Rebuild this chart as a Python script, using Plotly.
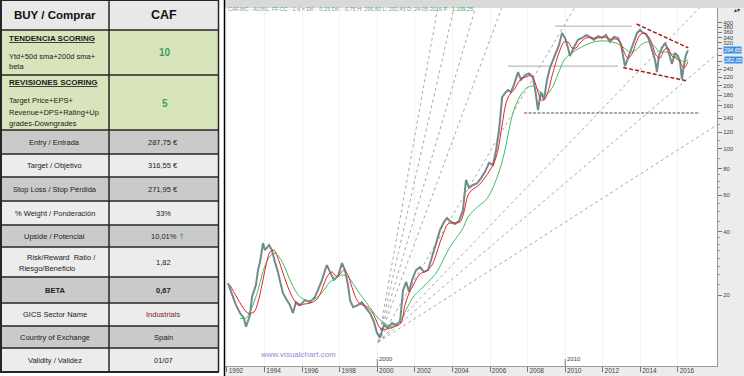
import math
import plotly.graph_objects as go

W, H = 744, 376

# ---------------- chart data ----------------
price_years = [1992.05, 1992.27, 1992.48, 1992.69, 1992.90, 1993.01, 1993.22, 1993.33, 1993.54, 1993.65,
               1993.76, 1993.92, 1994.02, 1994.24, 1994.39, 1994.55, 1994.71, 1994.87, 1994.98, 1995.19,
               1995.35, 1995.51, 1995.67, 1995.89, 1996.15, 1996.42, 1996.68, 1996.84, 1997.06, 1997.22,
               1997.32, 1997.48, 1997.69, 1997.91, 1998.12, 1998.28, 1998.44, 1998.55, 1998.71, 1998.97,
               1999.18, 1999.40, 1999.61, 1999.82, 1999.98, 2000.14, 2000.36, 2000.57, 2000.78, 2000.99,
               2001.21, 2001.37, 2001.53, 2001.69, 2001.85, 2002.06, 2002.27, 2002.48, 2002.70, 2002.86,
               2003.02, 2003.18, 2003.34, 2003.55, 2003.71, 2003.92, 2004.13, 2004.35, 2004.56, 2004.72,
               2004.88, 2005.09, 2005.30, 2005.52, 2005.73, 2005.94, 2006.16, 2006.32, 2006.48, 2006.64,
               2006.80, 2006.96, 2007.11, 2007.27, 2007.49, 2007.65, 2007.86, 2008.07, 2008.28, 2008.44,
               2008.55, 2008.71, 2008.87, 2009.03, 2009.19, 2009.35, 2009.51, 2009.67, 2009.83, 2009.99,
               2010.15, 2010.25, 2010.47, 2010.68, 2010.89, 2011.11, 2011.32, 2011.53, 2011.74, 2011.96,
               2012.17, 2012.38, 2012.60, 2012.81, 2012.97, 2013.07, 2013.18, 2013.34, 2013.50, 2013.66,
               2013.82, 2013.98, 2014.14, 2014.30, 2014.46, 2014.62, 2014.78, 2014.88, 2014.99, 2015.15,
               2015.31, 2015.47, 2015.58, 2015.68, 2015.84, 2016.00, 2016.11, 2016.21, 2016.32, 2016.42,
               2016.53]
price_values = [22.8, 20.0, 17.9, 16.4, 15.5, 14.1, 16.0, 19.6, 22.3, 26.3,
                28.8, 35.4, 32.8, 34.7, 32.8, 28.8, 25.8, 22.3, 20.4, 18.9,
                17.9, 16.4, 18.5, 17.9, 18.9, 18.5, 19.6, 21.1, 23.6, 26.3,
                27.8, 25.8, 23.6, 24.6, 28.4, 26.3, 22.3, 18.9, 17.5, 17.9,
                18.5, 17.3, 16.4, 14.9, 13.2, 12.5, 14.4, 13.9, 14.7, 14.4,
                14.9, 21.1, 23.1, 20.7, 23.6, 26.3, 27.2, 25.8, 26.3, 29.4,
                32.8, 36.6, 40.9, 44.7, 46.7, 44.7, 43.7, 45.2, 51.0, 70.9,
                65.0, 67.1, 68.3, 72.4, 77.5, 85.5, 83.6, 98.6, 123, 176,
                184.6, 190.7, 186.6, 201.7, 232, 213, 224, 229, 221, 181,
                153, 186.6, 171, 213, 244, 265, 290, 313, 357, 338,
                303, 277, 306, 331, 338, 349, 342, 331, 345, 338,
                349, 323.5, 342, 338, 313, 280, 248, 271, 296, 331,
                357, 369, 357, 353, 331, 296, 265, 232, 280, 303,
                320, 296, 271, 254, 287, 277, 260, 215, 251, 280,
                294.65]

red_years = [1992.16, 1992.48, 1992.80, 1993.12, 1993.44, 1993.65, 1993.86, 1994.08, 1994.29, 1994.50,
             1994.71, 1994.93, 1995.14, 1995.35, 1995.57, 1995.78, 1996.10, 1996.42, 1996.74, 1996.95,
             1997.16, 1997.38, 1997.59, 1997.80, 1998.01, 1998.23, 1998.44, 1998.65, 1998.87, 1999.08,
             1999.40, 1999.72, 1999.93, 2000.14, 2000.36, 2000.68, 2000.99, 2001.26, 2001.47, 2001.69,
             2001.95, 2002.27, 2002.59, 2002.91, 2003.12, 2003.34, 2003.55, 2003.76, 2004.08, 2004.40,
             2004.61, 2004.83, 2005.04, 2005.36, 2005.68, 2006.00, 2006.21, 2006.42, 2006.64, 2006.85,
             2007.06, 2007.27, 2007.49, 2007.70, 2007.91, 2008.13, 2008.34, 2008.55, 2008.71, 2008.87,
             2009.08, 2009.30, 2009.51, 2009.72, 2009.94, 2010.15, 2010.36, 2010.57, 2010.79, 2011.11,
             2011.43, 2011.74, 2012.06, 2012.38, 2012.70, 2012.92, 2013.13, 2013.34, 2013.55, 2013.77,
             2013.98, 2014.19, 2014.41, 2014.62, 2014.83, 2015.04, 2015.26, 2015.47, 2015.68, 2015.90,
             2016.11, 2016.32, 2016.53]
red_values = [22.3, 19.8, 17.7, 16.4, 16.6, 18.5, 22.3, 27.8, 32.1, 32.8,
              30.0, 26.3, 23.1, 20.7, 18.9, 17.9, 18.1, 18.3, 18.9, 20.2,
              22.6, 24.9, 25.8, 24.6, 25.2, 26.3, 24.9, 21.8, 19.3, 18.1,
              17.7, 16.6, 15.2, 13.9, 13.7, 13.9, 14.2, 14.7, 17.9, 20.4,
              22.6, 25.2, 26.0, 27.8, 31.0, 35.8, 40.0, 43.7, 44.2, 44.7,
              49.8, 60.1, 63.5, 66.4, 71.7, 79.1, 85.5, 98.6, 129.9, 165,
              182.6, 190.7, 206, 218, 220, 223, 213, 186.6, 171, 171,
              186.6, 223, 259.7, 296, 323.5, 323.5, 302.9, 302.9, 320, 338,
              338, 338, 342, 334, 334, 323.5, 290, 271, 283, 320,
              349, 357, 345, 316.5, 280, 271, 296, 303, 277, 271,
              260, 243, 260]

green_years = [1992.69, 1993.01, 1993.22, 1993.44, 1993.65, 1993.86, 1994.08, 1994.29, 1994.55, 1994.82,
               1995.09, 1995.35, 1995.62, 1995.89, 1996.20, 1996.52, 1996.84, 1997.16, 1997.48, 1997.80,
               1998.12, 1998.44, 1998.76, 1999.08, 1999.40, 1999.72, 2000.04, 2000.36, 2000.68, 2000.99,
               2001.31, 2001.63, 2001.95, 2002.27, 2002.59, 2002.91, 2003.23, 2003.55, 2003.87, 2004.19,
               2004.51, 2004.83, 2005.15, 2005.46, 2005.78, 2006.10, 2006.42, 2006.64, 2006.85, 2007.06,
               2007.27, 2007.49, 2007.70, 2008.02, 2008.34, 2008.66, 2008.98, 2009.30, 2009.62, 2009.94,
               2010.25, 2010.57, 2010.89, 2011.21, 2011.53, 2011.85, 2012.17, 2012.49, 2012.81, 2013.13,
               2013.45, 2013.77, 2014.09, 2014.41, 2014.73, 2015.04, 2015.36, 2015.68, 2016.00, 2016.32,
               2016.53]
green_values = [15.5, 15.5, 16.6, 18.5, 21.1, 24.9, 28.4, 30.7, 31.7, 30.0,
                26.9, 23.6, 21.1, 19.6, 18.9, 18.9, 19.6, 21.1, 23.1, 24.1,
                24.9, 24.4, 22.3, 20.2, 18.5, 16.9, 15.5, 14.7, 14.2, 14.4,
                15.5, 17.7, 19.8, 21.1, 22.6, 24.1, 26.3, 30.0, 33.9, 37.4,
                40.9, 47.2, 50.9, 53.8, 56.9, 63.5, 74.9, 86.4, 104, 129.9,
                153, 171, 184.6, 197, 199, 186.6, 181, 195, 227.5, 265,
                283, 296, 307, 316.5, 323.5, 327, 327, 323.5, 316.5, 303,
                290, 296, 316.5, 323.5, 310, 290, 290, 283, 271, 260,
                265]

fan_origin_year = 2000.04
fan_origin_price = 11.9
fan_end_years = [2003.21, 2004.08, 2005.22, 2006.62, 2010.49, 2017.13, 2018.08, 2018.08]
fan_end_prices = [470, 470, 470, 470, 470, 470, 284, 130]

level_prices = [385, 248]
level_start_years = [2009.46, 2006.96]
level_end_years = [2013.55, 2012.81]

support_price = 148
support_years = [2007.81, 2017.17]

channel_upper_years = [2013.80, 2016.55]
channel_upper_prices = [394, 303]
channel_lower_years = [2013.09, 2016.47]
channel_lower_prices = [244, 211]

last_price = 294.65
second_price = 282.05

x_ticks = list(range(1992, 2017, 2))
y_ticks = [20, 40, 60, 80, 100, 120, 140, 160, 180, 200, 220, 240, 260, 280, 300, 320, 340, 360, 380, 400]
y_hidden = [260, 280, 300]   # labels covered by the price boxes in the original
y_minor = [22.5, 25, 27.5, 30, 32.5, 35, 37.5, 45, 50, 55, 65, 70, 75, 90, 110, 130, 150, 170, 190, 210, 230, 250]
era_marks = [2000, 2010]

header_text = ("CAF.MC - AUXIL. FF.CC - 1 d \u00d7 Dif.: -0,25 Dif.: -0,75 H: 296,80 L: 292,45 D: 24-05-2016 ")
header_p = "P : 1.109,25"

# ---------------- table data ----------------
head_left = "BUY / Comprar"
head_right = "CAF"
score_titles = ["TENDENCIA SCORING", "REVISIONES SCORING"]
score_details = [["Ytd+50d sma+200d sma+", "beta"],
                 ["Target Price+EPS+", "Revenue+DPS+Rating+Up", "grades-Downgrades"]]
score_values = ["10", "5"]
metric_labels = ["Entry / Entrada", "Target / Objetivo", "Stop Loss / Stop P\u00e9rdida",
                 "% Weight / Ponderaci\u00f3n", "Upside / Potencial", "Risk/Reward  Ratio /|Riesgo/Beneficio",
                 "BETA", "GICS Sector Name", "Country of Exchange", "Validity / Validez"]
metric_values = ["287,75 \u20ac", "316,55 \u20ac", "271,95 \u20ac", "33%", "10,01%", "1,82",
                 "0,67", "Industrials", "Spain", "01/07"]

# ---------------- helpers ----------------
FONT = "Liberation Sans, Arial, sans-serif"


def fx(p):
    return p / W


def fy(p):
    return 1 - p / H


fig = go.Figure()

# fan lines
for ey, ep in zip(fan_end_years, fan_end_prices):
    fig.add_trace(go.Scatter(x=[fan_origin_year, ey], y=[fan_origin_price, ep], mode="lines",
                             line=dict(color="#a8a8a8", width=1, dash="dot"), hoverinfo="skip"))

# horizontal levels
for lp, s, e in zip(level_prices, level_start_years, level_end_years):
    fig.add_trace(go.Scatter(x=[s, e], y=[lp, lp], mode="lines",
                             line=dict(color="#a9a9a9", width=1), hoverinfo="skip"))
fig.add_trace(go.Scatter(x=support_years, y=[support_price, support_price], mode="lines",
                         line=dict(color="#8a8a8a", width=1.5, dash="3px,1.5px"), hoverinfo="skip"))

# price and moving averages
fig.add_trace(go.Scatter(x=price_years, y=price_values, mode="lines",
                         line=dict(color="#718b8b", width=2), hoverinfo="skip"))
fig.add_trace(go.Scatter(x=green_years, y=green_values, mode="lines", line_shape="spline",
                         line=dict(color="#3fc061", width=1), hoverinfo="skip"))
fig.add_trace(go.Scatter(x=red_years, y=red_values, mode="lines", line_shape="spline",
                         line=dict(color="#e8242a", width=1), hoverinfo="skip"))

# channel
fig.add_trace(go.Scatter(x=channel_upper_years, y=channel_upper_prices, mode="lines",
                         line=dict(color="#a31c1c", width=1.5, dash="4px,2px"), hoverinfo="skip"))
fig.add_trace(go.Scatter(x=channel_lower_years, y=channel_lower_prices, mode="lines",
                         line=dict(color="#a31c1c", width=1.5, dash="4px,2px"), hoverinfo="skip"))

shapes = []
annotations = []

# chart frame strips
shapes.append(dict(type="rect", xref="paper", yref="paper", x0=fx(225), x1=1, y0=fy(8), y1=1,
                   fillcolor="#d9d9d9", line=dict(width=0), layer="below"))
shapes.append(dict(type="rect", xref="paper", yref="paper", x0=fx(717), x1=1, y0=0, y1=fy(8),
                   fillcolor="#ececec", line=dict(width=0), layer="below"))
shapes.append(dict(type="rect", xref="paper", yref="paper", x0=fx(225), x1=fx(717), y0=0, y1=fy(366),
                   fillcolor="#ececec", line=dict(width=0), layer="below"))
shapes.append(dict(type="line", xref="paper", yref="paper", x0=fx(224.5), x1=fx(224.5), y0=0, y1=1,
                   line=dict(color="#000000", width=1.5)))

# era marks above the time axis
for yr in era_marks:
    shapes.append(dict(type="line", xref="x", yref="paper", x0=yr, x1=yr, y0=fy(366), y1=fy(359),
                       line=dict(color="#777777", width=1)))
    annotations.append(dict(x=yr, y=fy(364), xref="x", yref="paper", text=str(yr), showarrow=False,
                            xanchor="left", xshift=0, font=dict(family=FONT, size=6, color="#444444")))

# header strip text
annotations.append(dict(x=fx(226), y=fy(4), xref="paper", yref="paper", showarrow=False, xanchor="left",
                        text=header_text + "<span style='color:#33a852'>" + header_p + "</span>",
                        font=dict(family=FONT, size=5.5, color="#6f9b9b")))
annotations.append(dict(x=fx(742), y=fy(4), xref="paper", yref="paper", showarrow=False, xanchor="right",
                        text="\u25b4\u25be", font=dict(family="DejaVu Sans", size=6, color="#333333")))

# watermark
annotations.append(dict(x=fx(258), y=fy(360.5), xref="paper", yref="paper", showarrow=False, xanchor="left",
                        text="www.visualchart.com",
                        font=dict(family="Liberation Sans, Arial", size=8, color="#8c8cd2")))

# price boxes on the right axis
annotations.append(dict(x=fx(722.5), y=math.log10(last_price), xref="paper", yref="y", showarrow=False,
                        xanchor="left", text=f"{last_price:.2f}".replace(".", ","), bgcolor="#3d8fe6",
                        borderpad=0, font=dict(family=FONT, size=5.5, color="white")))
annotations.append(dict(x=fx(723.5), y=math.log10(second_price), yshift=-6, xref="paper", yref="y",
                        showarrow=False, xanchor="left", text=f"{second_price:.2f}".replace(".", ","),
                        bgcolor="#3d8fe6", borderpad=0, font=dict(family=FONT, size=5.5, color="white")))

# ---------------- table ----------------
TL, TM, TR = 0, 109, 219
row_edges = [0, 30, 75, 130, 154, 177, 201, 225, 247, 277, 303, 326, 348, 372]
row_fills = ["#e8e8e8", "#d8e4bc", "#d8e4bc", "#cacaca", "#ececec", "#cacaca", "#ececec",
             "#cacaca", "#ececec", "#cacaca", "#ececec", "#cacaca", "#ececec"]
for i, col in enumerate(row_fills):
    shapes.append(dict(type="rect", xref="paper", yref="paper", x0=fx(TL), x1=fx(TR),
                       y0=fy(row_edges[i + 1]), y1=fy(row_edges[i]), fillcolor=col, line=dict(width=0),
                       layer="below"))
for j, e in enumerate(row_edges):
    wdt = 2 if j in (0, len(row_edges) - 1) else 1.5
    shapes.append(dict(type="line", xref="paper", yref="paper", x0=fx(TL), x1=fx(TR), y0=fy(e), y1=fy(e),
                       line=dict(color="#262626", width=wdt)))
for xv, wdt in [(TL + 1, 2), (TM, 1.5), (TR - 0.5, 1.5)]:
    shapes.append(dict(type="line", xref="paper", yref="paper", x0=fx(xv), x1=fx(xv),
                       y0=fy(row_edges[-1]), y1=fy(0), line=dict(color="#262626", width=wdt)))


def txt(x, y, s, size=8, color="#222222", anchor="center", bold=False):
    if bold:
        s = "<b>" + s + "</b>"
    annotations.append(dict(x=fx(x), y=fy(y), xref="paper", yref="paper", text=s, showarrow=False,
                            xanchor=anchor, yanchor="middle",
                            font=dict(family=FONT, size=size, color=color)))


col1 = (TL + TM) / 2
col2 = (TM + TR) / 2
txt(col1, 15, head_left, size=11.5, color="#111111", bold=True)
txt(col2, 15, head_right, size=12.5, color="#111111", bold=True)

score_title_y = [38, 83]
score_line_y = [[56, 66.5], [101, 112, 123]]
score_value_y = [52, 103]
for t, ty, lines, ly, v, vy in zip(score_titles, score_title_y, score_details, score_line_y,
                                   score_values, score_value_y):
    txt(7, ty, "<u>" + t + "</u>", size=8, color="#1a1a1a", anchor="left", bold=True)
    for ln, yy in zip(lines, ly):
        txt(7, yy, ln, size=7.5, color="#222222", anchor="left")
    txt(col2 + 1, vy, v, size=10, color="#3f9d5b", bold=True)

for i, (lab, val) in enumerate(zip(metric_labels, metric_values)):
    yc = (row_edges[i + 3] + row_edges[i + 4]) / 2
    bold = lab == "BETA"
    if "|" in lab:
        l1, l2 = lab.split("|")
        txt(25, yc - 5, l1, size=7.5, anchor="left")
        txt(17, yc + 6, l2, size=7.5, anchor="left")
    else:
        txt(col1, yc, lab, size=7.5, bold=bold)
    if val.endswith("%") and "," in val:
        txt(col2 + 4, yc, val + " <span style='color:#2f9a6c;font-family:DejaVu Sans'>\u2191</span>", size=7.5)
    else:
        color = "#7a1d1d" if lab == "GICS Sector Name" else "#222222"
        txt(col2 - 1, yc, val, size=7.5, color=color, bold=bold)

fig.update_layout(
    width=W, height=H, margin=dict(l=0, r=0, t=0, b=0),
    paper_bgcolor="white", plot_bgcolor="white", showlegend=False,
    shapes=shapes, annotations=annotations, hovermode=False,
    xaxis=dict(domain=[fx(225), fx(717)], range=[1991.894, 2018.077], tickmode="array",
               tickvals=x_ticks, ticktext=[str(t) for t in x_ticks], ticks="outside", ticklen=5,
               tickcolor="#777777", tickfont=dict(family=FONT, size=6.5, color="#444444"),
               ticklabelshift=9, ticklabelstandoff=-7, showline=True, linecolor="#9a9a9a", linewidth=1,
               showgrid=True, gridcolor="#f3f3f3", zeroline=False, fixedrange=True),
    yaxis=dict(type="log", domain=[fy(366), fy(8)], range=[math.log10(9.16), math.log10(470)],
               side="right", tickmode="array", tickvals=y_ticks,
               ticktext=["" if t in y_hidden else str(t) for t in y_ticks],
               ticks="outside", ticklen=4, tickcolor="#777777",
               tickfont=dict(family=FONT, size=6, color="#444444"),
               minor=dict(tickmode="array", tickvals=y_minor, ticks="outside", ticklen=2,
                          tickcolor="#999999", showgrid=False),
               showline=True, linecolor="#9a9a9a", linewidth=1, showgrid=False, zeroline=False,
               fixedrange=True),
)

fig.write_html("out.html", config={"displayModeBar": False},
               post_script="document.body.style.margin='0';document.body.style.overflow='hidden';")
